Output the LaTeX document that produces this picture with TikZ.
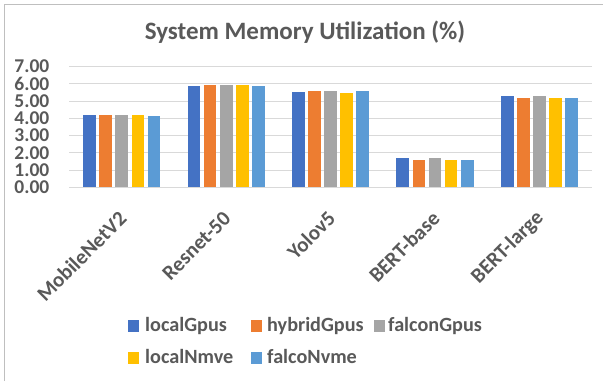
\documentclass[tikz,border=0pt]{standalone}
\usepackage{fontspec}
\setmainfont{Carlito}
\definecolor{s0}{HTML}{4472C4}
\definecolor{s1}{HTML}{ED7D31}
\definecolor{s2}{HTML}{A5A5A5}
\definecolor{s3}{HTML}{FFC000}
\definecolor{s4}{HTML}{5B9BD5}
\definecolor{txt}{HTML}{595959}
\definecolor{gridc}{HTML}{D9D9D9}
\definecolor{frame}{HTML}{BFBFBF}
\tikzset{
  gridline/.style={draw=gridc, line width=0.9pt},
  ylab/.style={text=txt, font=\bfseries\fontsize{19.5}{19.5}\selectfont, inner sep=0pt, anchor=east},
  catlab/.style={text=txt, font=\bfseries\fontsize{21}{21}\selectfont, inner sep=0pt, rotate=45, anchor=east},
  legsq/.style={minimum size=11.5pt, inner sep=0pt},
  legtx/.style={text=txt, font=\bfseries\fontsize{20.2}{20.2}\selectfont, inner sep=0pt, anchor=base west},
  charttitle/.style={text=txt, font=\bfseries\fontsize{25}{25}\selectfont, inner sep=0pt, anchor=base}
}
\begin{document}
\begin{tikzpicture}[x=1pt, y=-1pt]
\useasboundingbox (0,0) rectangle (603,381);
\fill[white] (0,0) rectangle (603,381);
% chart frame
\draw[frame, line width=1pt] (4,381) -- (4,4) -- (603,4);
% title
\node[charttitle] (title) at (305,39.3) {System Memory Utilization (\%)};
% horizontal grid and value axis labels
\foreach \v in {0,...,7} {
  \draw[gridline] (69,{187.3-17.25*\v}) -- (591.7,{187.3-17.25*\v});
  \node[ylab] (y\v) at (49.5,{187.3-17.25*\v}) {\v.00};
}
% bars: one group per model, one bar per configuration
\foreach \vals [count=\gi from 0] in {{4.19,4.19,4.19,4.19,4.15},{5.87,5.91,5.91,5.91,5.87},{5.54,5.56,5.56,5.48,5.56},{1.68,1.58,1.68,1.58,1.58},{5.29,5.20,5.29,5.20,5.20}} {
  \foreach \v [count=\k from 0] in \vals {
    \fill[s\k] ({121.8+104.4*\gi+(\k-2)*16.1-6.35},187.3) rectangle ({121.8+104.4*\gi+(\k-2)*16.1+6.35},{187.3-17.25*\v});
  }
}
% category labels
\foreach \name [count=\gi from 0] in {MobileNetV2,Resnet-50,Yolov5,BERT-base,BERT-large} {
  \node[catlab] (cat\gi) at ({121.8+104.4*\gi+1},215) {\name};
}
% legend
\node[legsq, fill=s0] (k0) at (133.3,326) {};
\node[legtx] (t0) at (145,331.7) {localGpus};
\node[legsq, fill=s1] (k1) at (256.3,326) {};
\node[legtx] (t1) at (267,331.7) {hybridGpus};
\node[legsq, fill=s2] (k2) at (379.5,326) {};
\node[legtx] (t2) at (388,331.7) {falconGpus};
\node[legsq, fill=s3] (k3) at (133.3,358) {};
\node[legtx] (t3) at (145,363.5) {localNmve};
\node[legsq, fill=s4] (k4) at (256.3,358) {};
\node[legtx] (t4) at (267,363.5) {falcoNvme};
\end{tikzpicture}
\end{document}
